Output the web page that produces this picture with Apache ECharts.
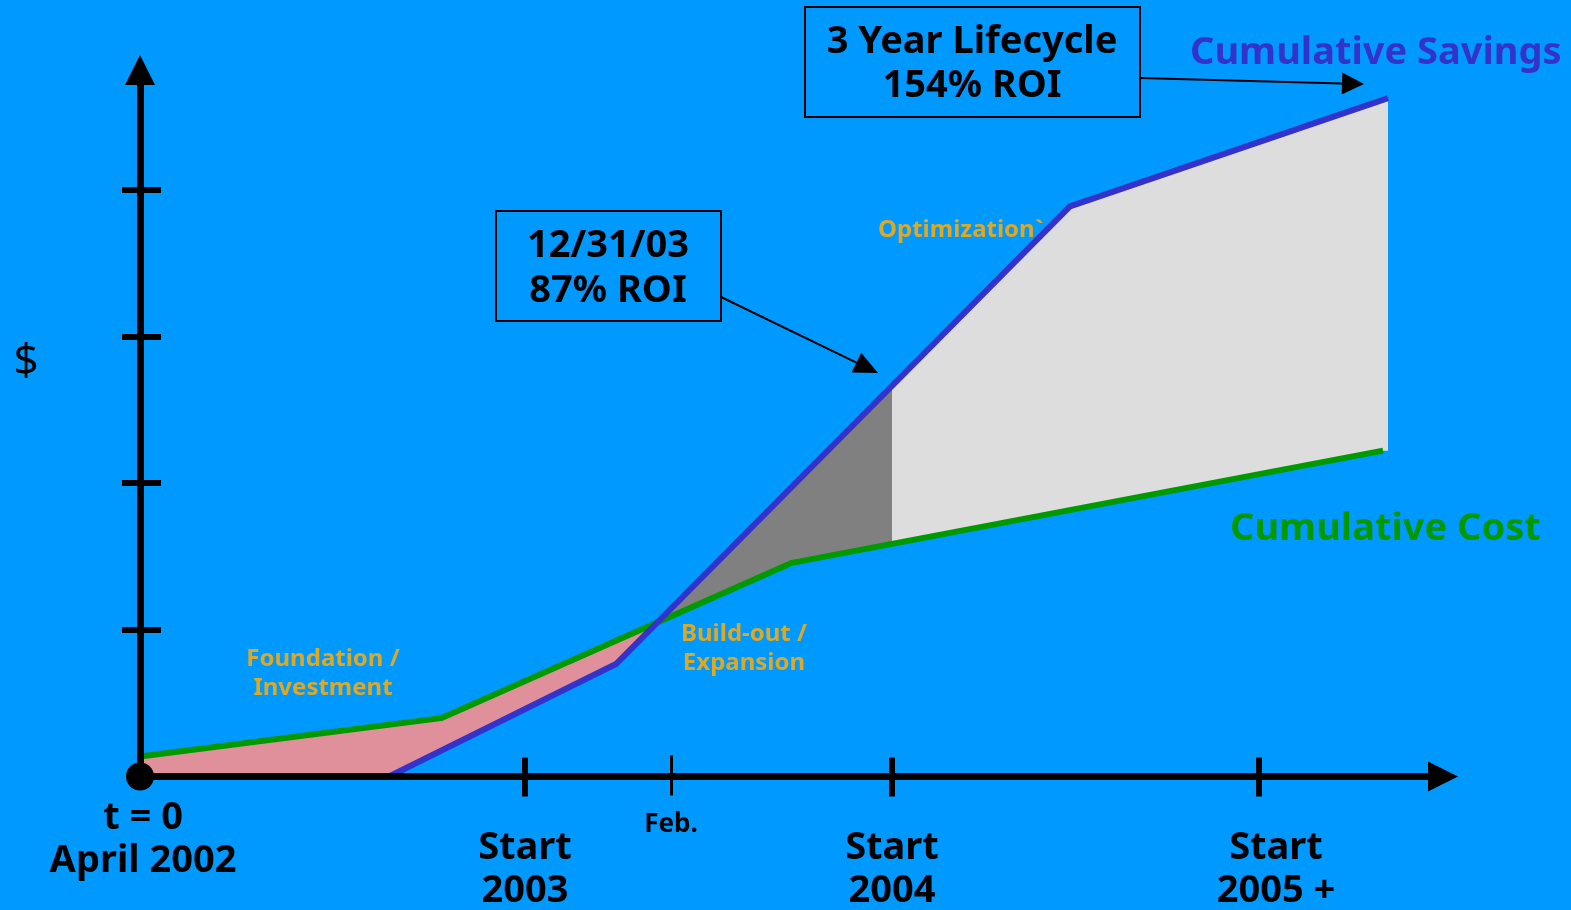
<!DOCTYPE html>
<html>
<head>
<meta charset="utf-8">
<script src="https://cdn.jsdelivr.net/npm/echarts@6/dist/echarts.min.js"></script>
<style>
html, body { margin: 0; padding: 0; background: #0099FF; }
#chart { width: 1571px; height: 910px; }
</style>
</head>
<body>
<div id="chart"></div>
<script>
// x is an abstract timeline (not linear in months), y is $ in tick units
const majorX = [38.5, 75.2, 111.9];
const febX = 53.1;
const startLabels = { 38.5: 'Start\n2003', 75.2: 'Start\n2004', 111.9: 'Start\n2005 +' };
const originLabel = 't = 0\nApril 2002';
const febLabel = 'Feb.';
const yTicks = [1, 2, 3, 4];
const costPts = [[0, 0.136], [30.1, 0.398], [65.2, 1.457], [124.3, 2.222]];
const savingsPts = [[24.9, 0], [47.6, 0.767], [93.0, 3.888], [124.8, 4.626]];
const phaseSplit = 75.2;   // start of 2004
const lifecycleEnd = 124.8;

const FONT = '"Noto Sans", "DejaVu Sans", sans-serif';
const GOLD = '#DFA822';

function valueAt(pts, x) {
    if (x <= pts[0][0]) return pts[0][1];
    for (let i = 1; i < pts.length; i++) {
        if (x <= pts[i][0]) {
            const a = pts[i - 1], b = pts[i];
            return a[1] + (b[1] - a[1]) * (x - a[0]) / (b[0] - a[0]);
        }
    }
    return pts[pts.length - 1][1];
}

// where the savings line overtakes the cost line
function crossing(lo, hi) {
    for (let i = 0; i < 60; i++) {
        const mid = (lo + hi) / 2;
        if (valueAt(savingsPts, mid) < valueAt(costPts, mid)) lo = mid; else hi = mid;
    }
    return (lo + hi) / 2;
}
const crossX = crossing(savingsPts[0][0], phaseSplit);

// region between an upper and a lower polyline from x0 to x1
function band(top, bottom, x0, x1) {
    const up = [[x0, valueAt(top, x0)]];
    top.forEach(p => { if (p[0] > x0 && p[0] < x1) up.push(p); });
    up.push([x1, valueAt(top, x1)]);
    const down = [[x1, valueAt(bottom, x1)]];
    bottom.slice().reverse().forEach(p => { if (p[0] > x0 && p[0] < x1) down.push(p); });
    down.push([x0, valueAt(bottom, x0)]);
    return up.concat(down);
}

const floorLine = [[0, 0]].concat(savingsPts);
const regions = [
    { pts: band(costPts, floorLine, 0, crossX), color: '#E0909A' },
    { pts: band(savingsPts, costPts, crossX, phaseSplit), color: '#808080' },
    { pts: band(savingsPts, costPts, phaseSplit, lifecycleEnd), color: '#DDDDDD' }
];

function arrow(x1, y1, x2, y2, head, w) {
    const a = Math.atan2(y2 - y1, x2 - x1);
    const bx = x2 - head * Math.cos(a), by = y2 - head * Math.sin(a);
    const nx = -Math.sin(a) * w / 2, ny = Math.cos(a) * w / 2;
    return [
        { type: 'line', shape: { x1: x1, y1: y1, x2: bx, y2: by }, style: { stroke: '#000', lineWidth: 2 } },
        { type: 'polygon', shape: { points: [[x2, y2], [bx + nx, by + ny], [bx - nx, by - ny]] }, style: { fill: '#000' } }
    ];
}

function label(x, y, text, size, color, align, weight, lh) {
    return {
        type: 'text', x: x, y: y, z: 20,
        style: {
            text: text, fill: color, align: align || 'left', verticalAlign: 'middle',
            font: (weight || 'bold') + ' ' + size + 'px ' + FONT, lineHeight: lh || size * 1.2
        }
    };
}

// one x axis per tick style (major / Feb.) and direction (down / up)
function xTicks(values, inside, len, width, extra) {
    return Object.assign({
        type: 'value', min: 0, max: 130.3, position: 'bottom', z: 5,
        axisLine: { show: false },
        axisTick: { show: true, inside: inside, customValues: values, length: len, lineStyle: { color: '#000', width: width } },
        axisLabel: { show: false },
        splitLine: { show: false }
    }, extra || {});
}

const chart = echarts.init(document.getElementById('chart'));

const bigText = { fontFamily: FONT, fontWeight: 'bold', fontSize: 38, color: '#000', lineHeight: 43 };

chart.setOption({
    backgroundColor: '#0099FF',
    animation: false,
    grid: { left: 140, right: 128, top: 70, bottom: 133 },
    xAxis: [
        xTicks(majorX, false, 20, 6, {
            axisLine: { show: true, lineStyle: { color: '#000', width: 7 }, symbol: ['none', 'triangle'], symbolSize: [30, 30] },
            axisLabel: {
                show: true, margin: 50, customValues: majorX,
                formatter: function (v) {
                    const st = v === 111.9 ? 'r' : 'a';
                    return startLabels[v].split('\n').map(l => '{' + st + '|' + l + '}').join('\n');
                },
                rich: { a: bigText, r: Object.assign({}, bigText, { padding: [0, 0, 0, 34] }) }
            }
        }),
        xTicks(majorX, true, 19, 6, {
            axisLabel: {
                show: true, margin: 20, customValues: [0],
                formatter: function () {
                    return originLabel.split('\n').map(l => '{a|' + l + '}').join('\n');
                },
                rich: { a: Object.assign({}, bigText, { padding: [0, 0, 0, 6] }) }
            }
        }),
        xTicks([febX], false, 19, 3, {
            axisLabel: {
                show: true, margin: 35, customValues: [febX],
                formatter: function () { return febLabel; },
                fontFamily: FONT, fontWeight: 'bold', fontSize: 26, color: '#000'
            }
        }),
        xTicks([febX], true, 21, 3)
    ],
    yAxis: [{
        type: 'value', min: 0, max: 4.818, z: 5,
        axisLine: { show: true, lineStyle: { color: '#000', width: 7 }, symbol: ['none', 'triangle'], symbolSize: [30, 30] },
        axisTick: { show: true, customValues: yTicks, length: 18, lineStyle: { color: '#000', width: 6 } },
        axisLabel: { show: false },
        splitLine: { show: false }
    }, {
        type: 'value', min: 0, max: 4.818, position: 'left', z: 5,
        axisLine: { show: false },
        axisTick: { show: true, inside: true, customValues: yTicks, length: 21, lineStyle: { color: '#000', width: 6 } },
        axisLabel: { show: false },
        splitLine: { show: false }
    }],
    series: [{
        type: 'custom', z: 1, silent: true,
        data: regions.map((r, i) => [i]),
        encode: { x: 0 },
        renderItem: function (params, api) {
            const r = regions[params.dataIndex];
            return {
                type: 'polygon',
                shape: { points: r.pts.map(p => api.coord(p)) },
                style: { fill: r.color }
            };
        }
    }, {
        name: 'Cumulative Cost', type: 'line', data: costPts, z: 3, clip: false,
        symbol: 'none', lineStyle: { color: '#009900', width: 6 }
    }, {
        name: 'Cumulative Savings', type: 'line', data: savingsPts, z: 3, clip: false,
        symbol: 'none', lineStyle: { color: '#3333CC', width: 6 }
    }, {
        type: 'scatter', data: [[0, 0]], z: 10, clip: false, silent: true,
        symbolSize: 28, itemStyle: { color: '#000', opacity: 1 }
    }],
    graphic: [
        { type: 'rect', shape: { x: 805, y: 7, width: 335, height: 110 }, style: { fill: 'none', stroke: '#000', lineWidth: 2 }, z: 20 },
        label(972, 64, '3 Year Lifecycle\n154% ROI', 38, '#000', 'center', 'bold', 44),
        { type: 'rect', shape: { x: 496, y: 211, width: 225, height: 110 }, style: { fill: 'none', stroke: '#000', lineWidth: 2 }, z: 20 },
        label(608, 269, '12/31/03\n87% ROI', 38, '#000', 'center', 'bold', 45),
        ...arrow(1140, 78, 1364, 84, 22, 22),
        ...arrow(721, 297, 878, 373, 24, 22),
        label(1190, 53, 'Cumulative Savings', 38, '#3333CC'),
        label(1230, 529, 'Cumulative Cost', 38, '#009900'),
        label(878, 230, 'Optimization`', 24, GOLD),
        label(744, 649, 'Build-out /\nExpansion', 24, GOLD, 'center', 'bold', 29),
        label(323, 674, 'Foundation /\nInvestment', 24, GOLD, 'center', 'bold', 29),
        label(26, 362, '$', 44, '#000', 'center', 'normal')
    ]
});
</script>
</body>
</html>
